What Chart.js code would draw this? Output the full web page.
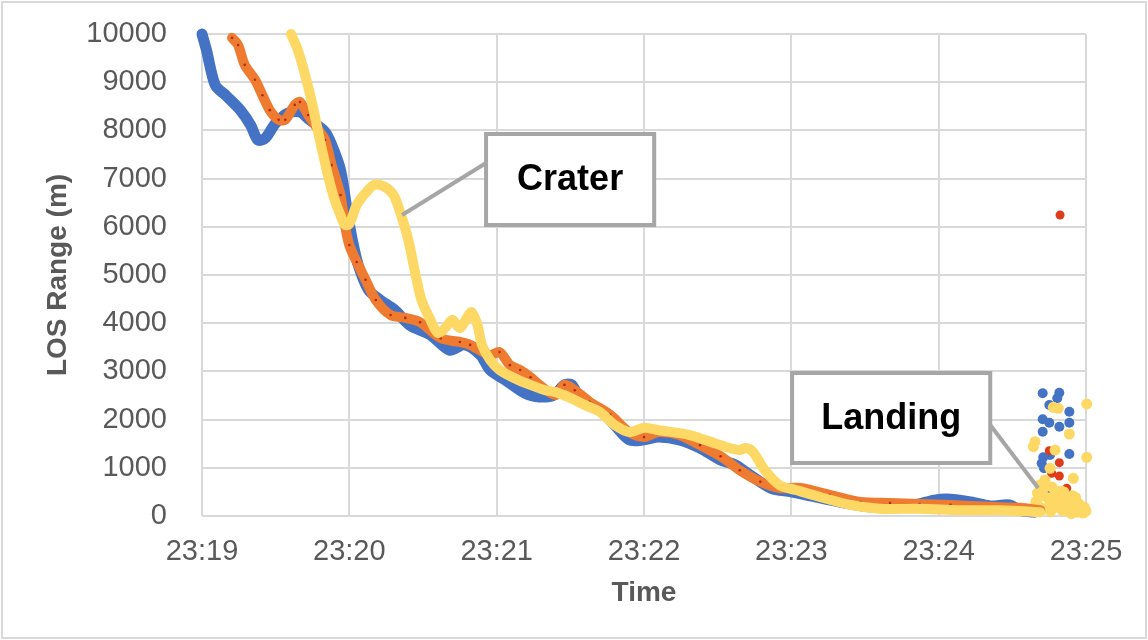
<!DOCTYPE html>
<html>
<head>
<meta charset="utf-8">
<script src="https://cdn.jsdelivr.net/npm/chart.js@4"></script>
<style>
  html, body { margin: 0; padding: 0; background: #fff; }
  #wrap { width: 1148px; height: 640px; }
</style>
</head>
<body>
<div id="wrap"><canvas id="los"></canvas></div>
<script>
/* LOS range chart */

const timeLabels = ['23:19', '23:20', '23:21', '23:22', '23:23', '23:24', '23:25']

// minutes after 23:19
const blueTime = [0, 0.03, 0.09, 0.16, 0.26, 0.33, 0.38, 0.43, 0.5, 0.585, 0.665, 0.73, 0.835, 0.88, 0.94, 0.99, 1.02, 1.06, 1.13, 1.21, 1.31, 1.41, 1.55, 1.68, 1.78, 1.89, 1.955, 2.06, 2.19, 2.29, 2.39, 2.46, 2.51, 2.57, 2.7, 2.8, 2.9, 3.0, 3.1, 3.24, 3.38, 3.52, 3.62, 3.72, 3.86, 4.0, 4.14, 4.33, 4.53, 4.73, 4.87, 4.97, 5.08, 5.22, 5.35, 5.48, 5.55, 5.65]
const blueRange = [10000, 9670, 8940, 8730, 8420, 8110, 7800, 7840, 8150, 8360, 8380, 8220, 7970, 7700, 7180, 6240, 5730, 5210, 4690, 4480, 4270, 3960, 3760, 3440, 3550, 3340, 3030, 2820, 2550, 2470, 2510, 2720, 2720, 2410, 2200, 1890, 1580, 1580, 1640, 1580, 1410, 1160, 1060, 850, 580, 500, 410, 290, 190, 190, 250, 330, 350, 290, 210, 230, 120, 80]

const orangeTime = [0.204, 0.245, 0.29, 0.36, 0.41, 0.46, 0.52, 0.565, 0.63, 0.665, 0.72, 0.79, 0.835, 0.88, 0.94, 0.97, 1.0, 1.05, 1.11, 1.18, 1.28, 1.38, 1.48, 1.62, 1.75, 1.82, 1.955, 2.02, 2.09, 2.16, 2.23, 2.29, 2.4, 2.46, 2.53, 2.63, 2.77, 2.9, 3.0, 3.1, 3.24, 3.38, 3.52, 3.65, 3.79, 3.92, 4.06, 4.26, 4.47, 4.67, 4.87, 5.08, 5.35, 5.55, 5.69]
const orangeRange = [9920, 9770, 9360, 9050, 8730, 8420, 8220, 8220, 8530, 8590, 8320, 8010, 7800, 7280, 6660, 6040, 5620, 5270, 4900, 4480, 4170, 4110, 4020, 3690, 3610, 3550, 3340, 3400, 3130, 3030, 2880, 2720, 2510, 2720, 2610, 2370, 2100, 1740, 1640, 1740, 1680, 1470, 1240, 950, 710, 580, 580, 440, 290, 270, 250, 230, 190, 170, 120]

const yellowTime = [0.604, 0.65, 0.7, 0.75, 0.8, 0.855, 0.9, 0.94, 0.97, 1.0, 1.05, 1.11, 1.17, 1.24, 1.3, 1.34, 1.4, 1.45, 1.49, 1.55, 1.6, 1.65, 1.7, 1.75, 1.81, 1.83, 1.87, 1.9, 1.955, 2.02, 2.12, 2.23, 2.33, 2.4, 2.5, 2.6, 2.7, 2.8, 2.9, 3.0, 3.1, 3.31, 3.48, 3.58, 3.65, 3.69, 3.74, 3.82, 3.92, 4.03, 4.2, 4.4, 4.6, 4.87, 5.15, 5.42, 5.69]
const yellowRange = [10000, 9670, 9150, 8530, 7800, 7070, 6560, 6240, 6040, 6060, 6450, 6700, 6870, 6830, 6660, 6350, 5730, 5000, 4480, 4070, 3800, 3900, 4070, 3900, 4170, 4230, 3960, 3550, 3240, 3030, 2860, 2720, 2610, 2570, 2450, 2300, 2160, 1890, 1740, 1830, 1780, 1680, 1510, 1410, 1370, 1410, 1330, 950, 640, 540, 390, 230, 150, 150, 120, 120, 80]

// scattered readings at touchdown
const blueNoiseTime = [5.706, 5.819, 5.805, 5.751, 5.887, 5.706, 5.751, 5.887, 5.819, 5.706, 5.887, 5.71, 5.756, 5.699, 5.715, 5.751, 5.778, 5.8, 5.85]
const blueNoiseRange = [2546, 2558, 2442, 2303, 2164, 2006, 1936, 1936, 1853, 1749, 1286, 1218, 1266, 1093, 990, 471, 263, 350, 300]

const orangeNoiseTime = [5.824, 5.751, 5.819, 5.819, 5.767, 5.903, 5.869, 5.93]
const orangeNoiseRange = [6245, 1355, 1106, 830, 886, 367, 575, 250]

const yellowNoiseTime = [6.005, 5.812, 5.778, 5.887, 5.654, 5.643, 5.79, 6.005, 5.756, 5.722, 5.914, 5.64, 5.66, 5.68, 5.7, 5.72, 5.74, 5.76, 5.78, 5.8, 5.82, 5.84, 5.86, 5.88, 5.9, 5.92, 5.94, 5.96, 5.98, 6.0, 5.67, 5.71, 5.75, 5.79, 5.83, 5.87, 5.91, 5.95, 5.99, 5.69, 5.77, 5.85, 5.93]
const yellowNoiseRange = [2324, 2234, 2255, 1701, 1541, 1438, 1369, 1218, 990, 747, 782, 120, 300, 200, 420, 150, 380, 90, 260, 180, 330, 110, 240, 160, 50, 200, 80, 140, 60, 100, 480, 560, 340, 450, 520, 300, 420, 260, 180, 650, 600, 500, 380]

const Text = {
  X_TITLE: 'Time',
  Y_TITLE: 'LOS Range (m)',
  CRATER: 'Crater',
  LANDING: 'Landing'
}

const FONT = "'Liberation Sans', Arial, sans-serif"
const GREY = '#595959'

// callout boxes, in axis units (minutes / metres)
const callouts = [
  { text: Text.CRATER, box: [1.928, 3.069, 7925, 6037], from: [1.358, 6245], to: [1.928, 7324] },
  { text: Text.LANDING, box: [4.005, 5.35, 2967, 1100], from: [5.675, 581], to: [5.35, 1888] }
]

const zip = (xs, ys) => xs.map((x, i) => ({ x: x, y: ys[i] }))

const frame = {
  id: 'frame',
  beforeDraw(chart) {
    const ctx = chart.ctx
    ctx.save()
    ctx.fillStyle = '#fff'
    ctx.fillRect(0, 0, chart.width, chart.height)
    ctx.strokeStyle = '#d9d9d9'
    ctx.lineWidth = 2
    ctx.strokeRect(2, 2, chart.width - 4, chart.height - 4)
    ctx.restore()
  }
}

const calloutPlugin = {
  id: 'callouts',
  afterDatasetsDraw(chart) {
    const { ctx, scales: { x, y } } = chart
    ctx.save()
    callouts.forEach(c => {
      const left = x.getPixelForValue(c.box[0])
      const right = x.getPixelForValue(c.box[1])
      const top = y.getPixelForValue(c.box[2])
      const bottom = y.getPixelForValue(c.box[3])
      ctx.strokeStyle = '#a6a6a6'
      ctx.lineWidth = 4
      ctx.beginPath()
      ctx.moveTo(x.getPixelForValue(c.from[0]), y.getPixelForValue(c.from[1]))
      ctx.lineTo(x.getPixelForValue(c.to[0]), y.getPixelForValue(c.to[1]))
      ctx.stroke()
      ctx.fillStyle = '#fff'
      ctx.fillRect(left, top, right - left, bottom - top)
      ctx.strokeRect(left, top, right - left, bottom - top)
      ctx.fillStyle = '#000'
      ctx.font = 'bold 36px ' + FONT
      ctx.textAlign = 'center'
      ctx.textBaseline = 'middle'
      ctx.fillText(c.text, (left + right) / 2, (top + bottom) / 2 + 1)
    })
    ctx.restore()
  }
}

const tickFont = { family: FONT, size: 29 }
const titleFont = { family: FONT, size: 28, weight: 'bold' }

const lineStyle = {
  pointRadius: 0,
  tension: 0.3,
  clip: false,
  borderCapStyle: 'round',
  borderJoinStyle: 'round'
}

new Chart(document.getElementById('los'), {
  type: 'line',
  data: {
    datasets: [
      {
        ...lineStyle,
        label: 'yellow',
        data: zip(yellowTime, yellowRange),
        borderColor: '#fed865',
        borderWidth: 10,
        order: 1
      },
      {
        ...lineStyle,
        label: 'orange',
        data: zip(orangeTime, orangeRange),
        borderColor: '#ee7b30',
        borderWidth: 10,
        pointRadius: 1.3,
        pointBorderWidth: 0,
        pointBackgroundColor: '#b8260f',
        order: 2
      },
      {
        ...lineStyle,
        label: 'blue',
        data: zip(blueTime, blueRange),
        borderColor: '#4472c4',
        borderWidth: 11,
        order: 3
      },
      {
        label: 'yellow noise',
        data: zip(yellowNoiseTime, yellowNoiseRange),
        showLine: false,
        clip: false,
        pointRadius: 5.5,
        pointBorderWidth: 0,
        pointBackgroundColor: '#fed865',
        order: 4
      },
      {
        label: 'orange noise',
        data: zip(orangeNoiseTime, orangeNoiseRange),
        showLine: false,
        clip: false,
        pointRadius: 4.5,
        pointBorderWidth: 0,
        pointBackgroundColor: '#dd3b1a',
        order: 5
      },
      {
        label: 'blue noise',
        data: zip(blueNoiseTime, blueNoiseRange),
        showLine: false,
        clip: false,
        pointRadius: 5,
        pointBorderWidth: 0,
        pointBackgroundColor: '#4472c4',
        order: 6
      }
    ]
  },
  options: {
    animation: false,
    responsive: true,
    maintainAspectRatio: false,
    layout: { padding: { top: 34, right: 62, left: 0, bottom: 0 } },
    plugins: {
      legend: { display: false },
      tooltip: { enabled: false }
    },
    scales: {
      x: {
        type: 'linear',
        min: 0,
        max: 6,
        ticks: {
          stepSize: 1,
          autoSkip: false,
          maxRotation: 0,
          padding: 19,
          color: GREY,
          font: tickFont,
          callback: (v, i) => timeLabels[i]
        },
        grid: { color: '#d9d9d9', lineWidth: 2, drawTicks: false },
        border: { display: false },
        title: {
          display: true,
          text: Text.X_TITLE,
          color: GREY,
          font: titleFont,
          padding: { top: 0, bottom: 30 }
        },
        afterFit(scale) { scale.height = 124 }
      },
      y: {
        min: 0,
        max: 10000,
        ticks: {
          stepSize: 1000,
          padding: 0,
          color: GREY,
          font: tickFont,
          callback: v => String(v)
        },
        grid: {
          color: '#d9d9d9',
          lineWidth: 2,
          drawTicks: true,
          tickLength: 35,
          tickColor: 'rgba(0,0,0,0)'
        },
        border: { display: false },
        title: {
          display: true,
          text: Text.Y_TITLE,
          color: GREY,
          font: titleFont,
          padding: { top: 41, bottom: 0 }
        },
        afterFit(scale) { scale.width = 202 }
      }
    }
  },
  plugins: [frame, calloutPlugin]
})
</script>
</body>
</html>
